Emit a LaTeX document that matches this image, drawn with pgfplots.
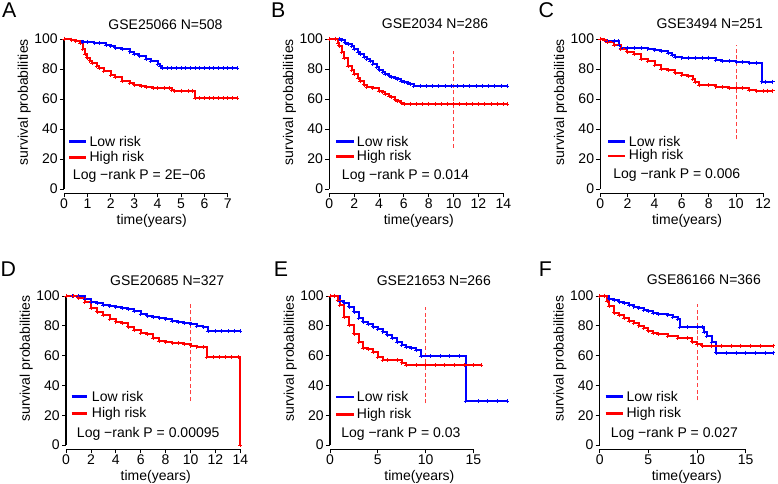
\documentclass[border=0pt]{standalone}
\usepackage{fontspec}
\setmainfont{Liberation Sans}
\usepackage{pgfplots}
\pgfplotsset{compat=1.18}
\newcommand\f{\fontsize{10.5}{12.5}\selectfont}
\newcommand\fl{\fontsize{16}{18}\selectfont}
\definecolor{kmblue}{RGB}{0,0,255}
\definecolor{kmred}{RGB}{255,0,0}
\pgfplotsset{
 km/.style={scale only axis, clip=false, anchor=south west,
  axis x line*=bottom, axis y line*=left, axis line style={draw=none},
  tick align=outside, major tick length=3pt, tick style={black, line width=0.6pt},
  ymin=-3, ymax=102, xmin=0, ytick={0,20,...,100},
  /pgf/number format/assume math mode=true,
  tick label style={font=\f}, yticklabel style={inner sep=1.5pt}, xticklabel style={inner sep=0.5pt},
  xlabel={time(years)}, ylabel={survival probabilities}, label style={font=\f},
  ylabel style={at={(ticklabel cs:0.58)}, inner sep=1pt}, xlabel style={inner sep=0pt, yshift=-3.5pt}},
 lo/.style={const plot, kmblue, line width=1.5pt, mark=+, mark size=1.5pt, mark options={line width=0.5pt}},
 hi/.style={const plot, kmred, line width=1.5pt, mark=+, mark size=1.5pt, mark options={line width=0.5pt}},
 cut/.style={kmred!75, dash pattern=on 3pt off 2pt, line width=0.6pt, mark=none}
}
\begin{document}
\begin{tikzpicture}
\useasboundingbox (0,0) rectangle (583.5pt,363pt);
% ---------- A ----------
\begin{axis}[km, at={(48pt,217.875pt)}, width=131.625pt, height=118.125pt, xmax=7.5, xtick={0,...,7}]
\addplot[lo] coordinates {(0,100)(0.3,99.5)(0.5,98.5)(0.8,98)(1,98)(1.3,97.5)(1.5,97.2)(1.8,96)(2,95)(2.2,94.2)(2.5,93)(2.8,91.5)(3,90)(3.2,88.8)(3.5,86.5)(3.7,85)(4,83)(4.1,82)(4.2,80.5)(4.4,80.5)(4.6,80.5)(4.8,80.5)(5.0,80.5)(5.2,80.5)(5.4,80.5)(5.6,80.5)(5.8,80.5)(6,80.5)(6.2,80.5)(6.4,80.5)(6.6,80.5)(6.8,80.5)(7.0,80.5)(7.2,80.5)(7.4,80.5)};
\addplot[hi] coordinates {(0,100)(0.3,99.5)(0.5,98.5)(0.7,97)(0.8,93)(0.9,90)(1,87.5)(1.1,85.5)(1.2,84)(1.4,82)(1.5,80.5)(1.7,78.5)(2,76)(2.2,74.5)(2.5,72)(2.8,70.5)(3,69.5)(3.3,68.5)(3.5,67.8)(3.8,67)(4,67)(4.3,67)(4.5,67)(4.6,66)(4.7,65.5)(5,65.5)(5.3,65.5)(5.5,65.5)(5.6,60.5)(5.8,60.5)(6,60.5)(6.2,60.5)(6.4,60.5)(6.6,60.5)(6.8,60.5)(7.0,60.5)(7.2,60.5)(7.4,60.5)};
\draw[line width=0.8pt] (axis cs:0,-3) -- (axis cs:7,-3);
\draw[line width=0.8pt] (axis cs:0,0) -- (axis cs:0,100);
\end{axis}
% ---------- B ----------
\begin{axis}[km, at={(246.975pt,217.875pt)}, width=134.25pt, height=118.125pt, xmax=14.4, xtick={0,2,...,14}]
\addplot[cut] coordinates {(10,27.5)(10,92)};
\addplot[lo] coordinates {(0,100)(0.5,100)(0.8,100)(1,99)(1.3,97.5)(1.5,96.6)(1.8,95)(2,93)(2.3,91)(2.5,90)(2.8,88)(3,86.6)(3.3,85)(3.5,83)(3.8,81)(4,79.5)(4.3,78)(4.5,76.6)(4.8,75.5)(5,74.8)(5.3,74)(5.5,73)(5.8,72)(6,71)(6.3,70.5)(6.5,70)(6.8,68.7)(7.3,68.7)(7.8,68.7)(8.3,68.7)(8.8,68.7)(9.3,68.7)(9.8,68.7)(10.3,68.7)(10.8,68.7)(11.3,68.7)(11.8,68.7)(12.3,68.7)(12.8,68.7)(13.3,68.7)(13.8,68.7)(14.3,68.7)};
\addplot[hi] coordinates {(0,100)(0.5,100)(0.7,97)(0.8,95.5)(1,91)(1.2,87)(1.5,82)(1.8,79)(2,76.5)(2.3,74)(2.5,72)(2.8,69.5)(3,68)(3.5,67)(4,65.4)(4.3,64.5)(4.5,63)(4.8,62)(5,61)(5.3,59.5)(5.5,58.7)(5.8,57.5)(6,56.7)(6.5,56.7)(7,56.7)(7.5,56.7)(8,56.7)(8.5,56.7)(9,56.7)(9.5,56.7)(10,56.7)(10.5,56.7)(11,56.7)(11.5,56.7)(12,56.7)(12.5,56.7)(13,56.7)(13.5,56.7)(14,56.7)(14.3,56.7)};
\draw[line width=0.8pt] (axis cs:0,-3) -- (axis cs:14,-3);
\draw[line width=0.8pt] (axis cs:0,0) -- (axis cs:0,100);
\end{axis}
% ---------- C ----------
\begin{axis}[km, at={(450.225pt,217.875pt)}, width=130.2pt, height=118.125pt, xmax=12.8, xtick={0,2,...,12}]
\addplot[cut] coordinates {(10,33)(10,96)};
\addplot[lo] coordinates {(0,100)(0.3,99.3)(0.5,98.5)(1,98.5)(1.3,98.5)(1.4,96)(1.5,94)(2,94)(2.5,94)(3,94)(3.5,93.5)(4,92.7)(4.5,92)(5,90.4)(5.3,89)(5.5,88)(6,87.5)(6.5,87.5)(7,87.5)(7.5,87.5)(8,87.5)(8.5,86)(9,85)(9.5,85)(10,84.9)(10.5,84.5)(11,84.2)(11.5,84.2)(11.9,71.5)(12.2,71.5)(12.7,71.5)};
\addplot[hi] coordinates {(0,100)(0.3,99)(0.5,98)(1,96)(1.5,93)(2,91.5)(2.5,89.8)(3,86.7)(3.5,85)(4,82.7)(4.5,80)(5,79)(5.5,77.6)(6,76)(6.5,75)(6.8,73)(7,71)(7.3,69.3)(8,69.3)(8.5,68.2)(9,67.8)(9.5,67)(10,67)(10.5,67)(11,66)(11.5,65.5)(12,65.5)(12.3,65.5)(12.7,65.5)};
\draw[line width=0.8pt] (axis cs:0,-3) -- (axis cs:12,-3);
\draw[line width=0.8pt] (axis cs:0,0) -- (axis cs:0,100);
\end{axis}
% ---------- D ----------
\begin{axis}[km, at={(49.5pt,25.875pt)}, width=134.5pt, height=117.375pt, xmax=14.4, xtick={0,2,...,14}]
\addplot[cut] coordinates {(10,29.5)(10,94.4)};
\addplot[lo] coordinates {(0,100)(0.5,100)(1,100)(1.5,98)(2,96)(2.5,95)(3,94)(3.5,93.3)(4,92.4)(4.5,91.7)(5,91)(5.5,89.9)(6,87.7)(6.5,86.8)(7,86)(7.5,85.5)(8,84.3)(8.5,83.2)(9,82.3)(9.5,81.7)(10,81)(10.5,79.9)(11,79.4)(11.4,76.5)(12,76.5)(12.5,76.5)(13,76.5)(13.5,76.5)(14,76.5)};
\addplot[hi] coordinates {(0,100)(0.6,100)(1,98.9)(1.5,96)(2,91.7)(2.5,89.5)(3,87.2)(3.5,84.6)(4,82.8)(4.5,81.7)(5,79.4)(5.5,77.2)(6,75)(6.5,74.3)(7,71.6)(7.5,69.8)(8,68.9)(8.5,68.7)(9,68.2)(9.5,67.6)(10,66.7)(10.5,66)(11,66)(11.3,59)(11.8,59)(12.3,59)(12.8,59)(13.3,59)(13.8,59)(14,0)};
\draw[line width=0.8pt] (axis cs:0,-3) -- (axis cs:14,-3);
\draw[line width=0.8pt] (axis cs:0,0) -- (axis cs:0,100);
\end{axis}
% ---------- E ----------
\begin{axis}[km, at={(247.5pt,25.875pt)}, width=134.1pt, height=117.375pt, xmax=18.7, xtick={0,5,10,15}]
\addplot[cut] coordinates {(10,28)(10,92.8)};
\addplot[lo] coordinates {(0,100)(0.5,100)(1,96.6)(1.5,95.5)(2,92.8)(2.5,89.4)(3,85)(3.5,82.7)(4,81)(4.5,79.3)(5,77.7)(5.5,76)(6,74)(6.5,71.5)(7,68.8)(7.5,67)(8,65.8)(8.5,65)(9,63.6)(9.5,59.5)(10.5,59.5)(11.5,59.5)(12.5,59.5)(13.5,59.5)(14.2,29.5)(15.5,29.5)(16.5,29.5)(17.5,29.5)(18.5,29.5)};
\addplot[hi] coordinates {(0,100)(0.5,100)(0.8,97.3)(1,94)(1.5,86)(2,80.4)(2.5,74.8)(3,69)(3.5,65)(4,64.3)(4.5,62.5)(5,59)(5.5,56.9)(6,56.9)(7,56.9)(7.5,55.3)(8,53.5)(9,53.5)(10,53.5)(11,53.5)(12,53.5)(13,53.5)(14,53.5)(15,53.5)(15.8,53.5)};
\draw[line width=0.8pt] (axis cs:0,-3) -- (axis cs:15,-3);
\draw[line width=0.8pt] (axis cs:0,0) -- (axis cs:0,100);
\end{axis}
% ---------- F ----------
\begin{axis}[km, at={(449.775pt,25.875pt)}, width=130.65pt, height=117.375pt, xmax=17.9, xtick={0,5,10,15}]
\addplot[cut] coordinates {(10,30)(10,94.4)};
\addplot[lo] coordinates {(0,100)(0.5,100)(1,98.2)(1.5,97.3)(2,96.2)(2.5,95)(3,94)(3.5,92.9)(4,91.8)(4.5,90.4)(5,89.6)(5.5,88.4)(6,87.8)(7,87)(7.5,85.6)(8,84.4)(8.2,79)(9,79)(10,79)(10.5,79)(10.7,75.6)(11,72.9)(11.5,68.9)(12,62)(13,62)(14,62)(15,62)(16,62)(17,62)(17.8,62)};
\addplot[hi] coordinates {(0,100)(0.5,100)(0.8,96.7)(1,93.3)(1.5,88.9)(2,87)(2.5,84.9)(3,82.9)(3.5,81.8)(4,80)(4.5,78.2)(5,76.7)(5.5,75)(6,74.4)(7,72.9)(8,71.8)(9,71.5)(9.5,69.3)(10,67.8)(10.5,66.7)(11.5,66.7)(12.5,66.7)(13.5,66.7)(14.5,66.7)(15.5,66.7)(16.5,66.7)(17.8,66.7)};
\draw[line width=0.8pt] (axis cs:0,-3) -- (axis cs:15,-3);
\draw[line width=0.8pt] (axis cs:0,0) -- (axis cs:0,100);
\end{axis}
% ---------- annotations (pixel coordinates, y downward) ----------
\begin{scope}[x=0.75pt, y=-0.75pt, yshift=363pt]
\foreach \L/\x/\y in {A/9.2/10.5, B/278.3/10.5, C/546.3/10.5, D/8.3/269.5, E/281/269.5, F/545.5/269.5}
  \node[font=\fl, inner sep=0pt] at (\x,\y) {\L};
\node[font=\f, inner sep=0pt] at (165.5,25) {GSE25066 N=508};
\node[font=\f, inner sep=0pt] at (435,24) {GSE2034 N=286};
\node[font=\f, inner sep=0pt] at (709.7,23.5) {GSE3494 N=251};
\node[font=\f, inner sep=0pt] at (167.2,280.3) {GSE20685 N=327};
\node[font=\f, inner sep=0pt] at (433.8,281) {GSE21653 N=266};
\node[font=\f, inner sep=0pt] at (703.8,279.7) {GSE86166 N=366};
% legends: x-start, x-end, text-x, y-blue, y-red, P-x, P-y, P text
\foreach \a/\b/\t/\yb/\yr/\px/\py/\P in {
  69.3/86/89.3/141.7/157.7/72.7/175.7/2E−06,
  336/354.3/356.7/141.7/156.7/341.7/175.7/0.014,
  608/624.7/628.7/141.7/156/613/175/0.006,
  71.7/87.3/91.7/396.3/413.7/76.7/434.3/0.00095,
  336/354.3/356.7/397/414.7/341/433.7/0.03,
  605.7/623/626.3/396.3/413.7/610.7/433.7/0.027}{
  \draw[kmblue, line width=2pt] (\a,\yb) -- (\b,\yb);
  \draw[kmred, line width=2pt] (\a,\yr) -- (\b,\yr);
  \node[font=\f, inner sep=0pt, anchor=west] at (\t,\yb) {Low risk};
  \node[font=\f, inner sep=0pt, anchor=west] at (\t,\yr) {High risk};
  \node[font=\f, inner sep=0pt, anchor=west] at (\px,\py) {Log −rank P = \P};
}
\end{scope}
\end{tikzpicture}
\end{document}
